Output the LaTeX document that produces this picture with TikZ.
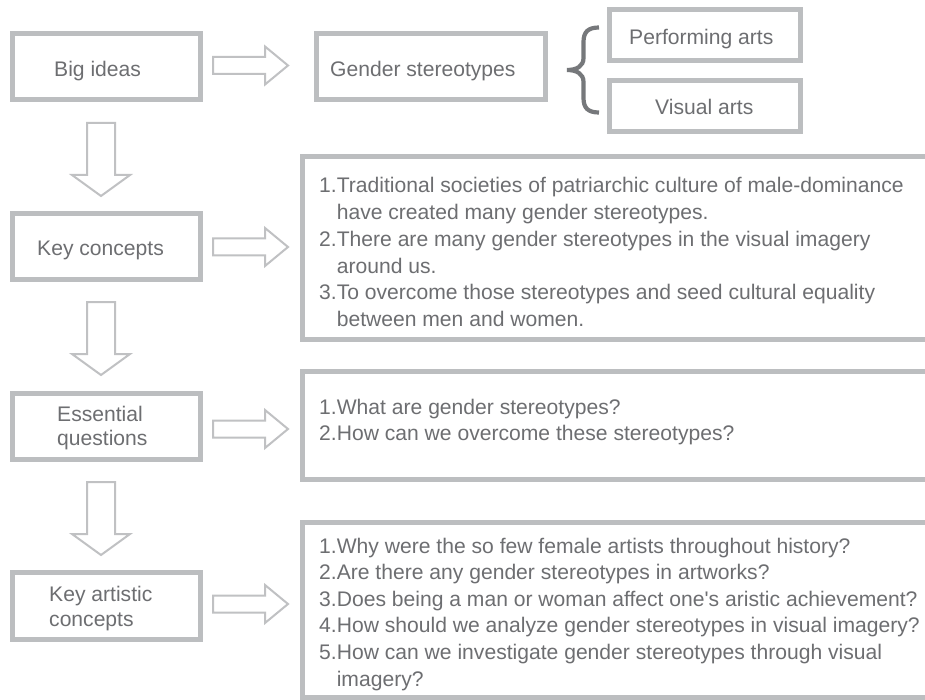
\documentclass[tikz,border=0pt]{standalone}
\usepackage{fontspec}
\setmainfont{Liberation Sans}[Ligatures=TeXOff]
\usetikzlibrary{calc}
\definecolor{boxgray}{RGB}{188,190,192}
\definecolor{txtgray}{RGB}{109,110,113}
\definecolor{bracegray}{RGB}{118,120,123}
\definecolor{arrgray}{RGB}{192,193,195}
\begin{document}
\begin{tikzpicture}[x=1pt,y=-1pt,
  box/.style={draw=boxgray, line width=5pt, inner sep=0pt, outer sep=0pt},
  txt/.style={text=txtgray, font=\fontsize{21.1}{26}\selectfont, inner sep=0pt, anchor=base west},
  arrowline/.style={draw=arrgray, line width=2pt, line join=miter, fill=white},
  rarr/.pic={\path[arrowline] (0,-8.5) -- (52,-8.5) -- (52,-19) -- (75,0) -- (52,19) -- (52,8.5) -- (0,8.5) -- cycle;},
  darr/.pic={\path[arrowline] (-14,0) -- (-14,52) -- (-29,52) -- (0,73) -- (29,52) -- (14,52) -- (14,0) -- cycle;}
]
\useasboundingbox (0,0) rectangle (925,700);
\clip (0,0) rectangle (925,700);
\fill[white] (0,0) rectangle (925,700);

% left column boxes
\node[box, minimum width=188pt, minimum height=66pt] (big) at (106.5,66.5) {};
\node[box, minimum width=188pt, minimum height=66pt] (kc) at (106.5,246.5) {};
\node[box, minimum width=188pt, minimum height=66pt] (eq) at (106.5,426.5) {};
\node[box, minimum width=188pt, minimum height=67pt] (kac) at (106.5,606) {};

\node[txt] (bigT) at (54,77) {Big ideas};
\node[txt] (kcT) at (37,255.7) {Key concepts};
\node[txt] (eqT1) at (57,421) {Essential};
\node[txt] (eqT2) at (57,445.5) {questions};
\node[txt] (kacT1) at (49,601.7) {Key artistic};
\node[txt] (kacT2) at (49,626.7) {concepts};

% top row
\node[box, minimum width=229pt, minimum height=66pt] (gs) at (431,66.5) {};
\node[txt] (gsT) at (330,77) {Gender stereotypes};
\node[box, minimum width=191pt, minimum height=51pt] (pa) at (705,35) {};
\node[txt] (paT) at (629,44.5) {Performing arts};
\node[box, minimum width=191pt, minimum height=51pt] (va) at (705,106) {};
\node[txt] (vaT) at (655,115) {Visual arts};

% brace
\draw[bracegray, line width=4.2pt]
  (599,27.5) .. controls (588,27.5) and (583.5,32) .. (583.5,42)
  -- (583.5,58) .. controls (583.5,66) and (577,70) .. (567,70)
  .. controls (577,70) and (583.5,74) .. (583.5,82)
  -- (583.5,98) .. controls (583.5,108) and (588,112.5) .. (599,112.5);

% right column boxes (open to the right)
\node[box, minimum width=640pt, minimum height=183pt] (kcB) at (622.5,248) {};
\node[box, minimum width=640pt, minimum height=108pt] (eqB) at (622.5,425.5) {};
\node[box, minimum width=640pt, minimum height=175pt] (kacB) at (622.5,610) {};

% texts in right boxes
\foreach \t [count=\i from 0] in {
  {1.Traditional societies of patriarchic culture of male-dominance},
  {\phantom{1.}have created many gender stereotypes.},
  {2.There are many gender stereotypes in the visual imagery},
  {\phantom{2.}around us.},
  {3.To overcome those stereotypes and seed cultural equality},
  {\phantom{3.}between men and women.}}
  \node[txt] (kcL\i) at (319,193+\i*26.7) {\t};

\node[txt] (eqL0) at (319,414) {1.What are gender stereotypes?};
\node[txt] (eqL1) at (319,440.5) {2.How can we overcome these stereotypes?};

\foreach \t [count=\i from 0] in {
  {1.Why were the so few female artists throughout history?},
  {2.Are there any gender stereotypes in artworks?},
  {3.Does being a man or woman affect one's aristic achievement?},
  {4.How should we analyze gender stereotypes in visual imagery?},
  {5.How can we investigate gender stereotypes through visual},
  {\phantom{5.}imagery?}}
  \node[txt] (kacL\i) at (319,553+\i*26.6) {\t};

% block arrows
\pic at ($(big.east)+(12.5,-1)$) {rarr};
\pic at ($(kc.east)+(12.5,0.5)$) {rarr};
\pic at ($(eq.east)+(12.5,2.5)$) {rarr};
\pic at ($(kac.east)+(12.5,-2)$) {rarr};
\pic at ($(big.south)+(-5.5,23.5)$) {darr};
\pic at ($(kc.south)+(-5.5,22.5)$) {darr};
\pic at ($(eq.south)+(-5.5,22.5)$) {darr};
\end{tikzpicture}
\end{document}
